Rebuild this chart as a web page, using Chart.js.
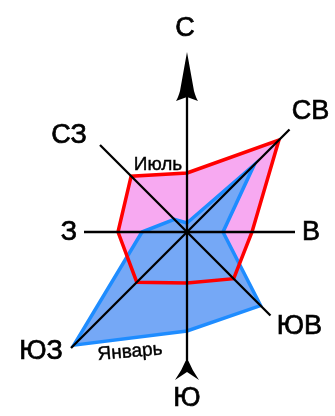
<!DOCTYPE html>
<html>
<head>
<meta charset="utf-8">
<script src="https://cdn.jsdelivr.net/npm/chart.js@4.4.1/dist/chart.umd.min.js"></script>
<style>
  html, body { margin: 0; padding: 0; background: #fff; }
  .chart-container { width: 335px; height: 416px; position: relative; }
</style>
</head>
<body>
<div class="chart-container">
  <canvas id="rose"></canvas>
</div>
<script>
// wind directions, clockwise from north
const directions = ['С', 'СВ', 'В', 'ЮВ', 'Ю', 'ЮЗ', 'З', 'СЗ'];
// wind frequency per direction
const julyValues = [5.9, 13.0, 6.5, 6.6, 5.1, 7.1, 6.9, 7.9];
const januaryValues = [0.9, 9.5, 3.6, 10.4, 9.9, 16.0, 4.5, 1.8];
const seriesNames = ['Июль', 'Январь'];
// how far each axis line reaches (same units as the data)
const axisLengths = [17.0, 14.5, 10.8, 11.8, 12.8, 16.4, 10.3, 12.3];

// axes, arrows and text drawn on top of the polygons
const roseDecor = {
  id: 'roseDecor',
  afterDatasetsDraw(chart) {
    const ctx = chart.ctx;
    const r = chart.scales.r;
    const c = r.getPointPositionForValue(0, 0);
    ctx.save();
    ctx.strokeStyle = '#000';
    ctx.fillStyle = '#000';
    ctx.lineWidth = 2.3;

    // axis lines
    axisLengths.forEach((len, i) => {
      const p = r.getPointPositionForValue(i, len);
      ctx.beginPath();
      ctx.moveTo(c.x, c.y);
      ctx.lineTo(p.x, p.y);
      ctx.stroke();
    });

    // north arrow
    const tip = r.getPointPositionForValue(0, 18.0);
    const base = r.getPointPositionForValue(0, 13.1);
    const notch = r.getPointPositionForValue(0, 13.5);
    ctx.beginPath();
    ctx.moveTo(tip.x, tip.y);
    ctx.lineTo(base.x + 7, base.y - 10);
    ctx.quadraticCurveTo(base.x + 9, base.y - 3, base.x + 11, base.y);
    ctx.lineTo(notch.x, notch.y);
    ctx.lineTo(base.x - 11, base.y);
    ctx.quadraticCurveTo(base.x - 9, base.y - 3, base.x - 7, base.y - 10);
    ctx.closePath();
    ctx.fill();

    // south tail
    const sTip = r.getPointPositionForValue(4, 12.6);
    const sWing = r.getPointPositionForValue(4, 14.8);
    const sNotch = r.getPointPositionForValue(4, 14.0);
    ctx.beginPath();
    ctx.moveTo(sTip.x, sTip.y);
    ctx.quadraticCurveTo(sTip.x + 5, sTip.y + 12, sWing.x + 12, sWing.y);
    ctx.lineTo(sNotch.x, sNotch.y);
    ctx.lineTo(sWing.x - 12, sWing.y);
    ctx.quadraticCurveTo(sTip.x - 5, sTip.y + 12, sTip.x, sTip.y);
    ctx.fill();

    // direction labels
    const labelRadius = [20.4, 14.5, 10.8, 11.8, 14.8, 16.4, 10.3, 12.3];
    const labelNudge = [[-2, 0], [21, -19], [16, 0], [29, 10], [0, 18], [-30, 3], [-15, 0], [-31, -10]];
    ctx.font = '27px "Liberation Sans", Arial, sans-serif';
    ctx.textAlign = 'center';
    ctx.textBaseline = 'middle';
    ctx.lineWidth = 0.7;
    directions.forEach((d, i) => {
      const p = r.getPointPositionForValue(i, labelRadius[i]);
      const x = p.x + labelNudge[i][0];
      const y = p.y + labelNudge[i][1] + 1;
      ctx.fillText(d, x, y);
      ctx.strokeText(d, x, y);
    });

    // series names
    ctx.font = '19px "Liberation Sans", Arial, sans-serif';
    ctx.lineWidth = 0.4;
    ctx.fillText(seriesNames[0], c.x - 29, c.y - 67);
    ctx.strokeText(seriesNames[0], c.x - 29, c.y - 67);
    ctx.save();
    ctx.translate(c.x - 57, c.y + 120);
    ctx.rotate(-5 * Math.PI / 180);
    ctx.fillText(seriesNames[1], 0, 0);
    ctx.strokeText(seriesNames[1], 0, 0);
    ctx.restore();

    ctx.restore();
  }
};

const ctx = document.getElementById('rose').getContext('2d');
new Chart(ctx, {
  type: 'radar',
  data: {
    labels: directions,
    datasets: [
      {
        label: seriesNames[0],
        data: julyValues,
        fill: false,
        borderColor: '#ff0000',
        borderWidth: 3.5,
        order: 0
      },
      {
        label: seriesNames[1],
        data: januaryValues,
        fill: true,
        backgroundColor: '#75a8f6',
        borderColor: '#1e8cff',
        borderWidth: 3.5,
        order: 1
      },
      {
        label: seriesNames[0],
        data: julyValues,
        fill: true,
        backgroundColor: '#f7a9f1',
        borderWidth: 0,
        order: 2
      }
    ]
  },
  options: {
    responsive: true,
    maintainAspectRatio: false,
    animation: false,
    layout: { padding: { left: 47, right: 8, top: 60, bottom: 12 } },
    elements: {
      point: { radius: 0, hoverRadius: 0 },
      line: { tension: 0, borderJoinStyle: 'miter' }
    },
    plugins: {
      legend: { display: false },
      tooltip: { enabled: false }
    },
    scales: {
      r: {
        min: 0,
        max: 14,
        grid: { display: false },
        angleLines: { display: false },
        ticks: { display: false },
        pointLabels: { display: false }
      }
    }
  },
  plugins: [roseDecor]
});
</script>
</body>
</html>
